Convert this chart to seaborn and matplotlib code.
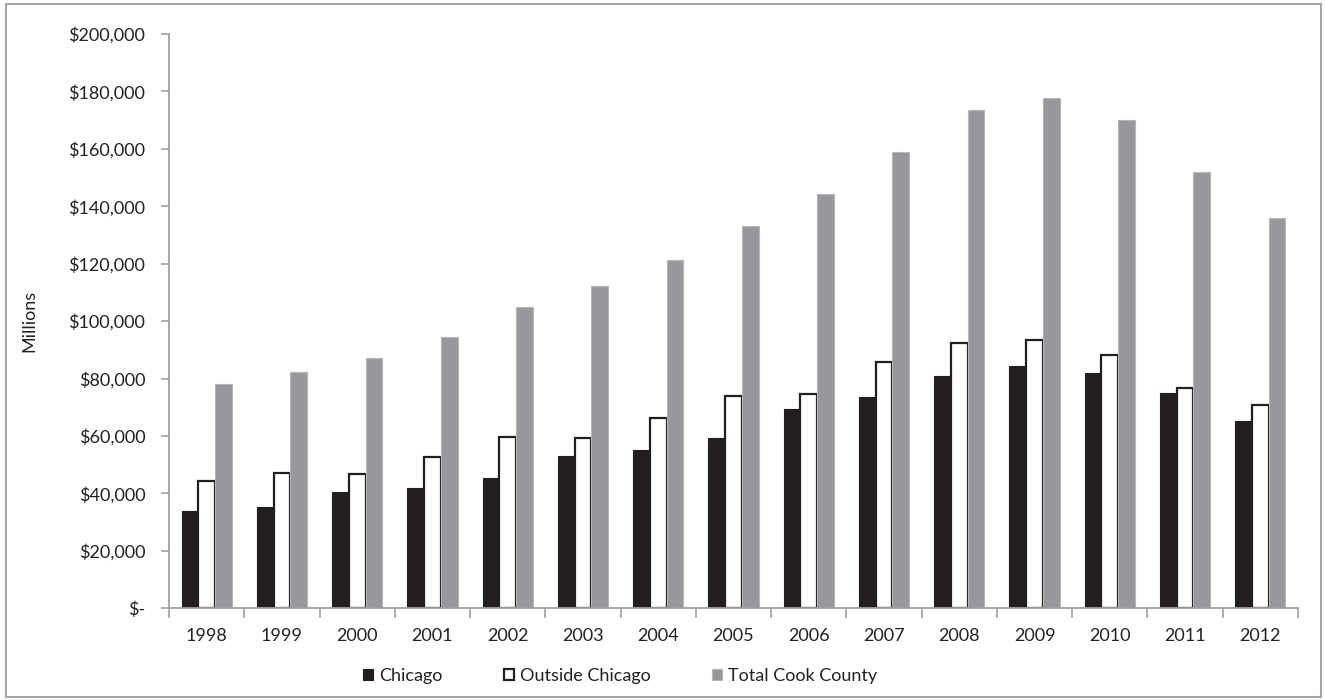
import matplotlib
matplotlib.use("Agg")
import matplotlib.pyplot as plt
import matplotlib.ticker as mticker
from matplotlib.patches import Rectangle
import numpy as np
import pandas as pd
import seaborn as sns

years = ["1998", "1999", "2000", "2001", "2002", "2003", "2004", "2005",
         "2006", "2007", "2008", "2009", "2010", "2011", "2012"]
chicago = [33900, 35300, 40500, 41900, 45400, 53000, 55100, 59300,
           69400, 73600, 80900, 84400, 81900, 75000, 65200]
outside = [44300, 47100, 46700, 52800, 59800, 59300, 66400, 74000,
           74700, 85600, 92500, 93300, 88200, 76700, 70700]
total = [78200, 82400, 87200, 94600, 104800, 112200, 121300, 133100,
         144200, 158900, 173400, 177800, 170200, 151800, 135900]
series_names = ["Chicago", "Outside Chicago", "Total Cook County"]
y_ticks = [0, 20000, 40000, 60000, 80000, 100000, 120000, 140000,
           160000, 180000, 200000]

df = pd.DataFrame({
    "Year": years * 3,
    "Value": chicago + outside + total,
    "Series": [series_names[0]] * len(years) + [series_names[1]] * len(years)
              + [series_names[2]] * len(years),
})

sns.set_theme(style="white")
plt.rcParams["font.family"] = ["Lato", "DejaVu Sans"]

FS = 13

fig = plt.figure(figsize=(13.25, 7.0), dpi=100)
ax = fig.add_axes([169 / 1325, 1 - 608.3 / 700, (1298 - 169) / 1325, (608.3 - 34) / 700])

palette = {"Chicago": "#231f20", "Outside Chicago": "#ffffff",
           "Total Cook County": "#97989c"}
sns.barplot(data=df, x="Year", y="Value", hue="Series", palette=palette,
            width=0.667, gap=0, ax=ax, saturation=1, legend=False)

edge = {"Chicago": ("#231f20", 0.8), "Outside Chicago": ("#231f20", 1.6),
        "Total Cook County": ("#b5b6b9", 0.8)}
for cont, name in zip(ax.containers, series_names):
    for p in cont.patches:
        p.set_edgecolor(edge[name][0])
        p.set_linewidth(edge[name][1])

ax.set_ylim(0, 200000)
ax.set_yticks(y_ticks)


def fmt(v, pos):
    if v == 0:
        return "$-"
    return "${:,.0f}".format(v)


ax.yaxis.set_major_formatter(mticker.FuncFormatter(fmt))
ax.set_xlabel("")
ax.set_ylabel("Millions", fontsize=FS, color="#222222")
ax.yaxis.set_label_coords((37 - 169) / 1129, 0.5)

# x tick marks at category boundaries, labels at centers
ax.xaxis.set_minor_locator(mticker.FixedLocator(np.arange(len(years) + 1) - 0.5))
ax.tick_params(axis="x", which="major", length=0, pad=14, labelsize=FS, colors="#222222")
ax.tick_params(axis="x", which="minor", length=7, width=1.2, color="#a0a0a0", direction="out", bottom=True)
ax.tick_params(axis="y", which="major", length=6, width=1.2, color="#a0a0a0", direction="out",
               left=True, pad=11, labelsize=FS, labelcolor="#222222")

for s in ["top", "right"]:
    ax.spines[s].set_visible(False)
for s in ["left", "bottom"]:
    ax.spines[s].set_color("#a0a0a0")
    ax.spines[s].set_linewidth(1.3)
ax.grid(False)

handles = [cont.patches[0] for cont in ax.containers]
fig.legend(handles, series_names, loc="center", bbox_to_anchor=(620 / 1325, 1 - 676 / 700),
           ncol=3, frameon=False, fontsize=FS, handlelength=0.55, handleheight=0.55,
           handletextpad=0.35, columnspacing=3.4, labelcolor="#222222")

fig.patches.append(Rectangle((6 / 1325, 3 / 700), 1315 / 1325, 693 / 700,
                             transform=fig.transFigure, fill=False,
                             edgecolor="#a6a6a6", linewidth=1.5))

fig.savefig("out.png", dpi=100, facecolor="white")
